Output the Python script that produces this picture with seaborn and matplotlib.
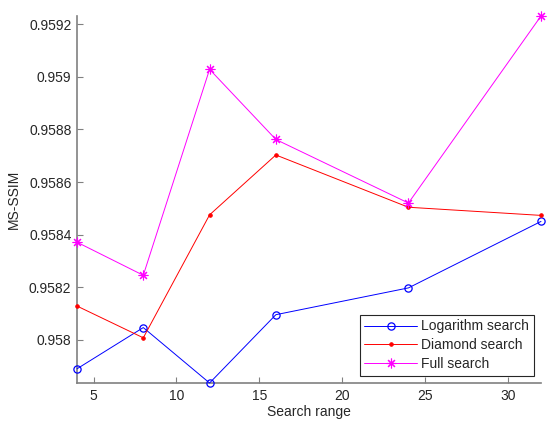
import matplotlib
matplotlib.use("Agg")
import matplotlib.pyplot as plt
import seaborn as sns
import pandas as pd
from matplotlib.ticker import FixedLocator, FuncFormatter

search_range = [4, 8, 12, 16, 24, 32]
log_search = [0.957889, 0.958046, 0.957835, 0.958095, 0.958197, 0.958450]
diamond_search = [0.958128, 0.958007, 0.958475, 0.958703, 0.958504, 0.958473]
full_search = [0.958371, 0.958245, 0.959029, 0.958762, 0.958520, 0.959232]
series_names = ["Logarithm search", "Diamond search", "Full search"]
x_ticks = [5, 10, 15, 20, 25, 30]
y_ticks = [0.958, 0.9582, 0.9584, 0.9586, 0.9588, 0.959, 0.9592]

sns.set_theme(style="white")
plt.rcParams["font.family"] = ["Liberation Sans", "DejaVu Sans"]

df = pd.concat([
    pd.DataFrame({"Search range": search_range, "MS-SSIM": vals, "Method": name})
    for name, vals in zip(series_names, [log_search, diamond_search, full_search])
])

fig = plt.figure(figsize=(5.53, 4.21), dpi=100)
ax = fig.add_axes([77 / 553, 1 - 383 / 421, (541 - 77) / 553, (383 - 16) / 421])

styles = {
    "Logarithm search": dict(color="#0000ff", marker="o", markersize=5.2,
                             markerfacecolor="none", markeredgecolor="#0000ff", markeredgewidth=0.9),
    "Diamond search": dict(color="#ff0000", marker=".", markersize=5,
                           markerfacecolor="#ff0000", markeredgecolor="#ff0000"),
    "Full search": dict(color="#ff00ff", marker=(8, 2, 0), markersize=7,
                        markerfacecolor="#ff00ff", markeredgecolor="#ff00ff", markeredgewidth=0.8),
}
for name in series_names:
    sub = df[df["Method"] == name]
    sns.lineplot(data=sub, x="Search range", y="MS-SSIM", ax=ax, label=name,
                 linewidth=0.7, clip_on=False, **styles[name])

ax.set_xlim(min(search_range), max(search_range))
ax.set_ylim(min(log_search), max(full_search))
ax.xaxis.set_major_locator(FixedLocator(x_ticks))
ax.yaxis.set_major_locator(FixedLocator(y_ticks))
ax.yaxis.set_major_formatter(FuncFormatter(lambda v, p: "%g" % round(v, 6)))

for s in ["top", "right"]:
    ax.spines[s].set_visible(False)
for s in ["left", "bottom"]:
    ax.spines[s].set_color("#808080")
    ax.spines[s].set_linewidth(1.2)
    ax.spines[s].set_zorder(0.5)
ax.tick_params(direction="in", length=4, width=0.8, color="#808080",
               labelsize=10, labelcolor="#262626", bottom=True, left=True, pad=4)

ax.set_xlabel("Search range", fontsize=10, color="#262626", labelpad=2)
ax.set_ylabel("MS-SSIM", fontsize=10, color="#262626", labelpad=6)

leg = ax.legend(loc="lower right", fontsize=10, frameon=True, fancybox=False,
                framealpha=1, edgecolor="#262626", handlelength=3.8,
                borderpad=0.35, labelspacing=0.35, handletextpad=0.3,
                bbox_to_anchor=(1.0, 0.0))
leg.get_frame().set_linewidth(0.8)
leg.set_zorder(5)

fig.savefig("out.png", dpi=100)
